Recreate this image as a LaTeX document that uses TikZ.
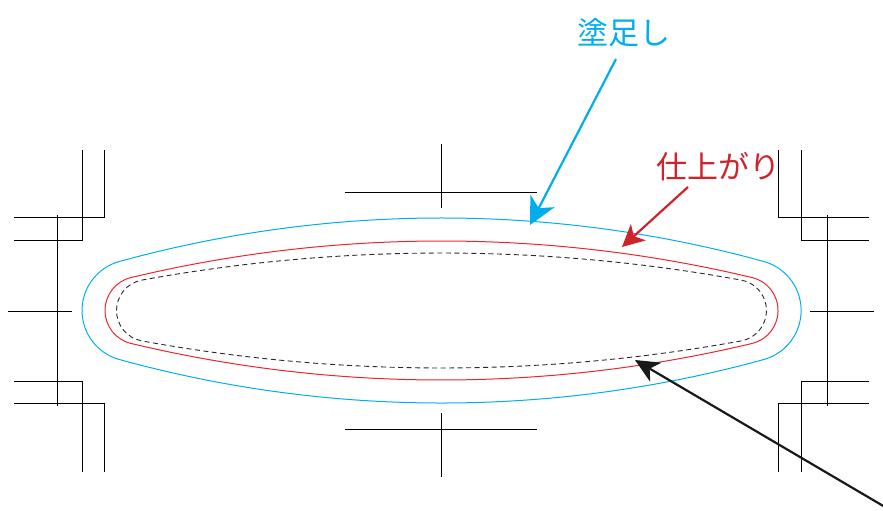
\documentclass[tikz,border=0pt]{standalone}
\usepackage{fontspec}
\newfontfamily\jpfont{Noto Sans CJK JP}
\usetikzlibrary{arrows.meta}
\definecolor{bleedblue}{RGB}{0,174,239}
\definecolor{trimred}{RGB}{237,36,44}
\definecolor{labelred}{RGB}{208,34,42}
\definecolor{safegray}{RGB}{40,40,40}
\tikzset{
  cropmark/.style={draw=black, line width=0.85pt},
  bleedline/.style={draw=bleedblue, line width=1pt},
  trimline/.style={draw=trimred, line width=1pt},
  safeline/.style={draw=safegray, line width=0.9pt, dash pattern=on 5pt off 3.5pt},
  labeltext/.style={font=\jpfont\fontsize{31pt}{36pt}\selectfont, inner sep=0pt},
  pointer/.style={line width=2.2pt},
}
% #1 style, #2 cx, #3 cy, #4 half width, #5 end radius, #6 big radius, #7 tangent angle
\newcommand\drawlens[7]{%
  \draw[#1] (#2-#4,#3)
    arc[start angle=180, end angle=#7, radius=#5]
    arc[start angle=#7, end angle=180-#7, radius=#6]
    arc[start angle=180-#7, end angle=-180+#7, radius=#5]
    arc[start angle=-180+#7, end angle=-#7, radius=#6]
    arc[start angle=-#7, end angle=-180, radius=#5] -- cycle;}
\begin{document}
\begin{tikzpicture}[x=1pt,y=1pt]
\path[use as bounding box] (0,0) rectangle (883,-511);

% contours
\drawlens{bleedline}{441.5}{-310.5}{359.5}{50.835}{1215}{105.38}
\drawlens{trimline}{441.5}{-310.5}{336.5}{33.873}{1337}{103.43}
\drawlens{safeline}{441.5}{-310.5}{325}{30.919}{1671}{100.33}

% crop marks left
\draw[cropmark] (82,-150) -- (82,-240) -- (14,-240);
\draw[cropmark] (104,-150) -- (104,-217) -- (14,-217);
\draw[cropmark] (57,-215) -- (57,-406);
\draw[cropmark] (8,-311) -- (72,-311);
\draw[cropmark] (14,-381) -- (82,-381) -- (82,-472);
\draw[cropmark] (14,-403) -- (104,-403) -- (104,-472);
% crop marks right
\draw[cropmark] (778,-150) -- (778,-217) -- (869,-217);
\draw[cropmark] (801,-150) -- (801,-240) -- (869,-240);
\draw[cropmark] (827,-215) -- (827,-406);
\draw[cropmark] (810,-311) -- (874,-311);
\draw[cropmark] (869,-381) -- (801,-381) -- (801,-472);
\draw[cropmark] (869,-403) -- (778,-403) -- (778,-472);
% crop marks top / bottom
\draw[cropmark] (441,-144) -- (441,-208);
\draw[cropmark] (345,-192) -- (537,-192);
\draw[cropmark] (345,-429) -- (537,-429);
\draw[cropmark] (441,-413) -- (441,-477);

% labels
\node[labeltext, text=bleedblue] (bleedlabel) at (624,-33) {塗足し};
\node[labeltext, text=labelred] (trimlabel) at (718,-167) {仕上がり};

% arrow endpoints
\coordinate (bleedfrom) at (616,-59);
\coordinate (bleedtip) at (530,-225);
\coordinate (trimfrom) at (688,-187);
\coordinate (trimtip) at (622,-247);
\coordinate (safefrom) at (885,-507);
\coordinate (safetip) at (635,-360);

\draw[pointer, draw=bleedblue, -{Stealth[length=27pt,width=27pt,inset=8pt]}] (bleedfrom) -- (bleedtip);
\draw[pointer, draw=labelred, -{Stealth[length=22pt,width=22pt,inset=6pt]}] (trimfrom) -- (trimtip);
\draw[pointer, draw=black!90, -{Stealth[length=24pt,width=22pt,inset=7pt]}] (safefrom) -- (safetip);
\end{tikzpicture}
\end{document}
